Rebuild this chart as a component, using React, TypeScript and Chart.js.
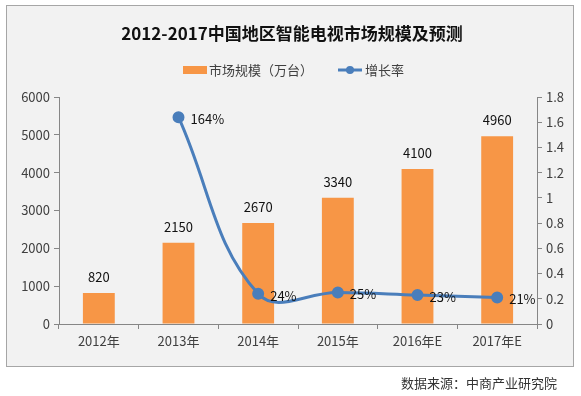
import React, { useEffect, useRef } from "react";
import { Chart, registerables } from "chart.js";

Chart.register(...registerables);

const categories = ["2012年", "2013年", "2014年", "2015年", "2016年E", "2017年E"];
const marketSize = [820, 2150, 2670, 3340, 4100, 4960];
const growthRate: (number | null)[] = [null, 1.64, 0.24, 0.25, 0.23, 0.21];
const growthLabels = ["", "164%", "24%", "25%", "23%", "21%"];
const titleText = "2012-2017中国地区智能电视市场规模及预测";
const legendBar = "市场规模（万台）";
const legendLine = "增长率";
const sourceText = "数据来源：中商产业研究院";

const FONT = "'Noto Sans CJK SC', 'Microsoft YaHei', sans-serif";
const ORANGE = "#F79646";
const BLUE = "#4A7EBB";
const TEXT = "#404040";

const decorPlugin = {
  id: "decor",
  beforeDraw(chart: any) {
    const ctx = chart.ctx;
    ctx.save();
    ctx.fillStyle = "#ffffff";
    ctx.fillRect(0, 0, chart.width, chart.height);
    ctx.fillStyle = "#F2F2F2";
    ctx.fillRect(6, 5, 567, 361);
    ctx.strokeStyle = "#A6A6A6";
    ctx.lineWidth = 1;
    ctx.strokeRect(6.5, 5.5, 567, 361);
    // title
    ctx.fillStyle = "#111111";
    ctx.font = `bold 17px ${FONT}`;
    ctx.textAlign = "center";
    ctx.textBaseline = "middle";
    ctx.fillText(titleText, 292, 34);
    // legend
    ctx.font = `13px ${FONT}`;
    ctx.textAlign = "left";
    ctx.fillStyle = ORANGE;
    ctx.fillRect(183, 66, 24, 8);
    ctx.fillStyle = TEXT;
    ctx.fillText(legendBar, 209, 70);
    ctx.strokeStyle = BLUE;
    ctx.lineWidth = 3;
    ctx.beginPath();
    ctx.moveTo(338, 70);
    ctx.lineTo(362, 70);
    ctx.stroke();
    ctx.fillStyle = BLUE;
    ctx.beginPath();
    ctx.arc(350, 70, 4, 0, Math.PI * 2);
    ctx.fill();
    ctx.fillStyle = TEXT;
    ctx.fillText(legendLine, 365, 70);
    // source
    ctx.textAlign = "right";
    ctx.fillStyle = "#333333";
    ctx.fillText(sourceText, 557, 383);
    ctx.restore();
  },
  afterDatasetsDraw(chart: any) {
    const ctx = chart.ctx;
    ctx.save();
    ctx.font = `13px ${FONT}`;
    ctx.fillStyle = "#111111";
    ctx.textBaseline = "middle";
    const barMeta = chart.getDatasetMeta(0);
    ctx.textAlign = "center";
    barMeta.data.forEach((el: any, i: number) => {
      ctx.fillText(String(marketSize[i]), el.x, el.y - 16);
    });
    const lineMeta = chart.getDatasetMeta(1);
    ctx.textAlign = "left";
    lineMeta.data.forEach((el: any, i: number) => {
      if (growthRate[i] == null) return;
      ctx.fillText(growthLabels[i], el.x + 12, el.y + 2);
    });
    ctx.restore();
  },
};

export default function App() {
  const ref = useRef<HTMLCanvasElement>(null);
  useEffect(() => {
    if (!ref.current) return;
    const chart = new Chart(ref.current, {
      type: "bar",
      data: {
        labels: categories,
        datasets: [
          {
            type: "bar",
            label: legendBar,
            data: marketSize,
            backgroundColor: ORANGE,
            yAxisID: "y",
            categoryPercentage: 1,
            barPercentage: 0.4,
            order: 1,
          },
          {
            type: "line",
            label: legendLine,
            data: growthRate,
            borderColor: BLUE,
            backgroundColor: BLUE,
            borderWidth: 3,
            pointRadius: 4.5,
            pointBackgroundColor: BLUE,
            pointBorderColor: BLUE,
            tension: 0.4,
            yAxisID: "y1",
            order: 0,
          } as any,
        ],
      },
      plugins: [decorPlugin],
      options: {
        responsive: false,
        animation: false,
        layout: { padding: { left: 8, right: 10, top: 97, bottom: 42 } },
        plugins: {
          legend: { display: false },
          title: { display: false },
          tooltip: { enabled: false },
        },
        scales: {
          x: {
            grid: { display: true, drawOnChartArea: false, tickLength: 5, color: "#868686" },
            border: { display: true, color: "#868686" },
            ticks: { color: TEXT, font: { family: FONT, size: 13 }, padding: 4 },
            afterFit(scale: any) {
              scale.height = 30;
            },
          },
          y: {
            position: "left",
            min: 0,
            max: 6000,
            ticks: {
              stepSize: 1000,
              color: TEXT,
              font: { family: FONT, size: 13 },
              padding: 4,
              callback: (v: any) => String(v),
            },
            grid: { display: true, drawOnChartArea: false, tickLength: 5, color: "#868686" },
            border: { display: true, color: "#868686" },
            afterFit(scale: any) {
              scale.width = 51;
            },
          },
          y1: {
            position: "right",
            min: 0,
            max: 1.8,
            ticks: {
              stepSize: 0.2,
              color: TEXT,
              font: { family: FONT, size: 13 },
              padding: 4,
              callback: (v: any) => String(Math.round(Number(v) * 10) / 10),
            },
            grid: { display: true, drawOnChartArea: false, tickLength: 5, color: "#868686" },
            border: { display: true, color: "#868686" },
            afterFit(scale: any) {
              scale.width = 34;
            },
          },
        },
      },
    });
    return () => chart.destroy();
  }, []);
  return (
    <div style={{ position: "fixed", left: 0, top: 0, width: 581, height: 396 }}>
      <canvas ref={ref} width={581} height={396} style={{ width: 581, height: 396, display: "block" }} />
    </div>
  );
}
